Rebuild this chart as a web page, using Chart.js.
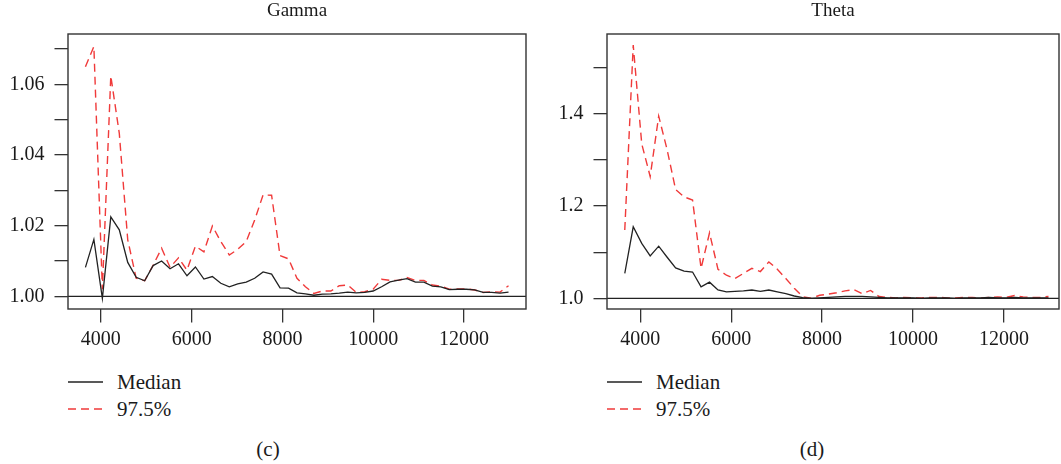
<!DOCTYPE html>
<html>
<head>
<meta charset="utf-8">
<script src="https://cdn.jsdelivr.net/npm/chart.js@4.4.1/dist/chart.umd.min.js"></script>
<style>
  html, body { margin: 0; padding: 0; background: #fff; }
  body { width: 1061px; height: 464px; position: relative; overflow: hidden; font-family: "Liberation Serif", "DejaVu Serif", serif; color: #1a1a1a; }
  canvas { position: absolute; top: 0; }
  .title { position: absolute; top: 0; font-size: 19px; line-height: 20px; transform: translateX(-50%); white-space: nowrap; }
  .legend { position: absolute; font-size: 21px; }
  .legend .row { position: absolute; left: 0; height: 24px; white-space: nowrap; }
  .legend svg { position: absolute; left: 0; top: 0; }
  .legend span { position: absolute; top: 0; line-height: 24px; }
  .panel { position: absolute; font-size: 21px; line-height: 24px; transform: translateX(-50%); }
</style>
</head>
<body>
<canvas id="c1" width="530" height="360" style="left:0px;width:530px;height:360px"></canvas>
<canvas id="c2" width="531" height="360" style="left:530px;width:531px;height:360px"></canvas>

<div class="title" style="left:297px">Gamma</div>
<div class="title" style="left:833px">Theta</div>

<div class="legend" style="left:68px;top:370px">
  <div class="row" style="top:0px">
    <svg width="36" height="24"><line x1="0" y1="12" x2="35" y2="12" stroke="#222" stroke-width="1.3"/></svg>
    <span style="left:49px">Median</span>
  </div>
  <div class="row" style="top:27px">
    <svg width="36" height="24"><line x1="0" y1="12" x2="35" y2="12" stroke="#f03a3a" stroke-width="1.3" stroke-dasharray="8 5"/></svg>
    <span style="left:49px">97.5%</span>
  </div>
</div>
<div class="legend" style="left:607px;top:370px">
  <div class="row" style="top:0px">
    <svg width="36" height="24"><line x1="0" y1="12" x2="35" y2="12" stroke="#222" stroke-width="1.3"/></svg>
    <span style="left:49px">Median</span>
  </div>
  <div class="row" style="top:27px">
    <svg width="36" height="24"><line x1="0" y1="12" x2="35" y2="12" stroke="#f03a3a" stroke-width="1.3" stroke-dasharray="8 5"/></svg>
    <span style="left:49px">97.5%</span>
  </div>
</div>

<div class="panel" style="left:268px;top:437px">(c)</div>
<div class="panel" style="left:812px;top:437px">(d)</div>

<script>
// ---------- data ----------
const iterations = [3660,3846,4033,4219,4406,4592,4778,4965,5151,5338,5524,5710,5897,6083,6270,6456,6642,6829,7015,7202,7388,7574,7761,7947,8134,8320,8506,8693,8879,9066,9252,9438,9625,9811,9998,10184,10370,10557,10743,10930,11116,11302,11489,11675,11862,12048,12234,12421,12607,12794,12980];

const gammaMedian = [1.0082,1.0161,0.9994,1.0225,1.0188,1.0096,1.0054,1.0044,1.0087,1.0100,1.0078,1.0092,1.0058,1.0083,1.0049,1.0056,1.0037,1.0027,1.0035,1.0040,1.0051,1.0069,1.0063,1.0024,1.0023,1.0010,1.0007,1.0003,1.0006,1.0007,1.0009,1.0012,1.0010,1.0011,1.0015,1.0027,1.0041,1.0046,1.0050,1.0040,1.0040,1.0029,1.0027,1.0019,1.0020,1.0020,1.0018,1.0011,1.0011,1.0009,1.0012];
const gammaQ975 = [1.0650,1.0707,1.0020,1.0624,1.0461,1.0160,1.0051,1.0044,1.0088,1.0136,1.0082,1.0109,1.0074,1.0142,1.0126,1.0199,1.0155,1.0117,1.0133,1.0155,1.0216,1.0287,1.0286,1.0115,1.0106,1.0051,1.0027,1.0008,1.0015,1.0015,1.0030,1.0032,1.0011,1.0013,1.0020,1.0048,1.0045,1.0045,1.0053,1.0045,1.0045,1.0032,1.0029,1.0020,1.0021,1.0021,1.0018,1.0011,1.0013,1.0012,1.0030];

const thetaMedian = [1.054,1.155,1.119,1.092,1.113,1.089,1.066,1.059,1.057,1.025,1.035,1.018,1.014,1.015,1.016,1.018,1.015,1.018,1.014,1.010,1.005,1.0015,1.000,1.001,1.002,1.003,1.004,1.004,1.004,1.003,1.002,1.001,1.001,1.001,1.001,1.000,1.001,1.001,1.001,1.000,1.001,1.001,1.001,1.002,1.001,1.001,1.002,1.001,1.001,1.001,1.001];
const thetaQ975 = [1.148,1.549,1.335,1.264,1.395,1.322,1.236,1.220,1.213,1.065,1.142,1.063,1.050,1.043,1.054,1.065,1.058,1.079,1.063,1.043,1.022,1.0035,1.000,1.0065,1.009,1.012,1.016,1.019,1.010,1.017,1.004,1.002,1.001,1.002,1.001,1.001,1.002,1.002,1.001,1.001,1.002,1.002,1.001,1.002,1.003,1.002,1.006,1.003,1.002,1.002,1.004];

const xTicks = [4000, 6000, 8000, 10000, 12000];
const xTickLabels = ["4000", "6000", "8000", "10000", "12000"];
const gammaYTicks = [1.00, 1.01, 1.02, 1.03, 1.04, 1.05, 1.06, 1.07];
const gammaYLabels = ["1.00", "", "1.02", "", "1.04", "", "1.06", ""];
const thetaYTicks = [1.0, 1.1, 1.2, 1.3, 1.4, 1.5];
const thetaYLabels = ["1.0", "", "1.2", "", "1.4", ""];
const referenceLevel = 1;

const seriesNames = ["Median", "97.5%"];

// ---------- styling ----------
const FONT = { family: "'Liberation Serif', 'DejaVu Serif', serif", size: 20 };
const AXIS_COLOR = '#333';
const TEXT_COLOR = '#1a1a1a';
const RED = '#f03a3a';

const boxPlugin = {
  id: 'box',
  afterDraw(chart) {
    const a = chart.chartArea, ctx = chart.ctx;
    ctx.save();
    ctx.strokeStyle = AXIS_COLOR;
    ctx.lineWidth = 1.4;
    ctx.strokeRect(a.left, a.top, a.right - a.left, a.bottom - a.top);
    ctx.restore();
  }
};

function pts(ys) { return iterations.map((x, i) => ({ x: x, y: ys[i] })); }

function makeChart(id, opts) {
  const xr = opts.xRange, yr = opts.yRange;
  return new Chart(document.getElementById(id), {
    type: 'line',
    data: {
      datasets: [
        { label: 'ref', data: [{ x: xr[0], y: referenceLevel }, { x: xr[1], y: referenceLevel }],
          borderColor: '#222', borderWidth: 1.3, pointRadius: 0 },
        { label: seriesNames[0], data: pts(opts.median), borderColor: '#222', borderWidth: 1.3,
          pointRadius: 0, tension: 0 },
        { label: seriesNames[1], data: pts(opts.q975), borderColor: RED, borderWidth: 1.4,
          borderDash: [8, 5], pointRadius: 0, tension: 0 }
      ]
    },
    options: {
      responsive: false,
      animation: false,
      devicePixelRatio: 1,
      layout: { padding: { left: 0, right: opts.padRight, top: 34, bottom: 0 } },
      plugins: { legend: { display: false }, tooltip: { enabled: false }, title: { display: false } },
      scales: {
        x: {
          type: 'linear', min: xr[0], max: xr[1],
          afterBuildTicks: s => { s.ticks = xTicks.map(v => ({ value: v })); },
          afterFit: s => { s.height = 51; },
          grid: { drawOnChartArea: false, drawTicks: true, tickLength: 13.5, color: AXIS_COLOR, lineWidth: 1.3 },
          border: { display: false },
          ticks: { font: FONT, color: TEXT_COLOR, padding: 5, maxRotation: 0, autoSkip: false,
                   callback: (v) => { const k = xTicks.indexOf(v); return k >= 0 ? xTickLabels[k] : ''; } }
        },
        y: {
          type: 'linear', min: yr[0], max: yr[1],
          afterBuildTicks: s => { s.ticks = opts.yTicks.map(v => ({ value: v })); },
          afterFit: s => { s.width = opts.yWidth; },
          grid: { drawOnChartArea: false, drawTicks: true, tickLength: 13.5, color: AXIS_COLOR, lineWidth: 1.3 },
          border: { display: false },
          ticks: { font: FONT, color: TEXT_COLOR, padding: 10, autoSkip: false,
                   callback: (v) => { const k = opts.yTicks.findIndex(t => Math.abs(t - v) < 1e-9); return k >= 0 ? opts.yLabels[k] : ''; } }
        }
      }
    },
    plugins: [boxPlugin]
  });
}

makeChart('c1', {
  xRange: [3276, 13365], yRange: [0.99641, 1.07424],
  median: gammaMedian, q975: gammaQ975,
  yTicks: gammaYTicks, yLabels: gammaYLabels,
  yWidth: 68, padRight: 4
});
makeChart('c2', {
  xRange: [3269, 13211], yRange: [0.9768, 1.5731],
  median: thetaMedian, q975: thetaQ975,
  yTicks: thetaYTicks, yLabels: thetaYLabels,
  yWidth: 77, padRight: 2
});
</script>
</body>
</html>
